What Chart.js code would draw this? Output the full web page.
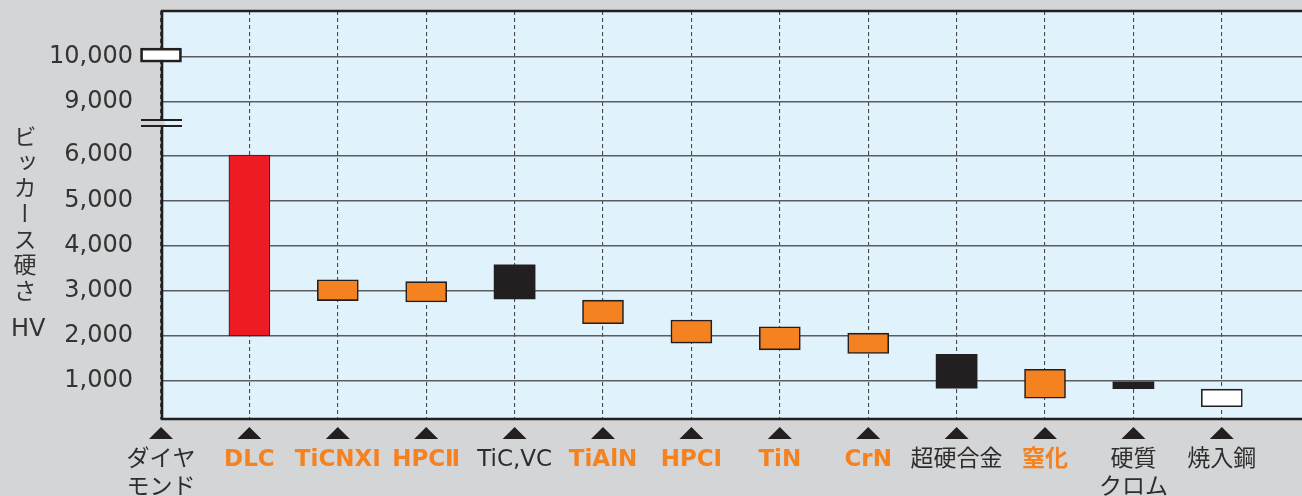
<!DOCTYPE html>
<html lang="ja">
<head>
<meta charset="UTF-8">
<title>ビッカース硬さ HV</title>
<script src="https://cdn.jsdelivr.net/npm/chart.js"></script>
<style>
    html, body { margin: 0; padding: 0; background: #d4d5d7; overflow: hidden; }
    .wrap { position: relative; width: 1302px; height: 496px; }
    #hardnessChart { position: absolute; left: 0; top: 0; }
    .y-title {
        position: absolute; left: 13px; top: 125px;
        writing-mode: vertical-rl; text-orientation: upright;
        font: 23px "Noto Sans CJK JP", sans-serif; line-height: 23px;
        letter-spacing: 2.6px; color: #333;
    }
    .y-unit {
        position: absolute; left: 11px; top: 315px;
        font: 24px "DejaVu Sans", sans-serif; line-height: 26px; color: #333;
    }
</style>
</head>
<body>
<div class="wrap">
    <canvas id="hardnessChart" width="1302" height="496"></canvas>
    <div class="y-title">ビッカース硬さ</div>
    <div class="y-unit">HV</div>
</div>
<script>
    // データ
    const categories = [['ダイヤ', 'モンド'], 'DLC', 'TiCNXⅠ', 'HPCⅡ', 'TiC,VC', 'TiAlN', 'HPCⅠ',
        'TiN', 'CrN', '超硬合金', '窒化', ['硬質', 'クロム'], '焼入鋼'];
    const hvLow  = [9870, 2000, 2780, 2750, 2820, 2270, 1840, 1690, 1610, 840, 620, 830, 430];
    const hvHigh = [10180, 6000, 3240, 3200, 3570, 2790, 2350, 2200, 2060, 1590, 1260, 980, 820];
    const yTickValues = [1000, 2000, 3000, 4000, 5000, 6000, 9000, 10000];
    const yTickLabels = ['1,000', '2,000', '3,000', '4,000', '5,000', '6,000', '9,000', '10,000'];

    // 色
    const ORANGE = '#f58220';
    const BLACK = '#231f20';
    const barFill = ['#ffffff', '#ed1c24', ORANGE, ORANGE, BLACK, ORANGE, ORANGE, ORANGE, ORANGE, BLACK, ORANGE, BLACK, '#ffffff'];
    const barEdgeWidth = [2.7, 1, 1.6, 1.6, 0, 1.6, 1.6, 1.6, 1.6, 0, 1.6, 0, 1.6];
    const labelOrange = [false, true, true, true, false, true, true, true, true, false, true, false, false];
    const FONT = '"DejaVu Sans", "Noto Sans CJK JP", sans-serif';

    // 軸の省略（6,000〜9,000）
    const BREAK_LO = 6000, BREAK_HI = 9000, BREAK_SPAN = 1190;
    function toAxis(v) {
        if (v <= BREAK_LO) return v;
        if (v >= BREAK_HI) return v - (BREAK_HI - BREAK_LO) + BREAK_SPAN;
        return BREAK_LO + (v - BREAK_LO) * BREAK_SPAN / (BREAK_HI - BREAK_LO);
    }

    const frame = {
        id: 'frame',
        beforeDraw(chart) {
            const { ctx, chartArea: a } = chart;
            ctx.save();
            ctx.fillStyle = '#e0f2fc';
            ctx.fillRect(a.left, a.top, a.right - a.left, a.bottom - a.top);
            ctx.restore();
        },
        beforeDatasetsDraw(chart) {
            const { ctx, chartArea: a } = chart;
            ctx.save();
            ctx.strokeStyle = BLACK;
            ctx.lineWidth = 2.6;
            ctx.beginPath();
            ctx.moveTo(a.right + 5, a.top);
            ctx.lineTo(a.left + 1, a.top);
            ctx.lineTo(a.left + 1, a.bottom);
            ctx.lineTo(a.right + 5, a.bottom);
            ctx.stroke();
            ctx.restore();
        },
        afterDatasetsDraw(chart) {
            const { ctx, chartArea: a, scales: { x, y } } = chart;
            ctx.save();
            // 省略記号
            const yb = y.getPixelForValue(toAxis(7800));
            const x0 = x.getPixelForValue(0);
            ctx.fillStyle = '#d4d5d7';
            ctx.fillRect(a.left - 1, yb - 2, 4.5, 4);
            ctx.strokeStyle = BLACK;
            ctx.lineWidth = 2;
            ctx.beginPath();
            ctx.moveTo(x0 - 20, yb - 3); ctx.lineTo(x0 + 21, yb - 3);
            ctx.moveTo(x0 - 20, yb + 3); ctx.lineTo(x0 + 21, yb + 3);
            ctx.stroke();
            // 三角マーク
            ctx.fillStyle = BLACK;
            categories.forEach((c, i) => {
                const px = x.getPixelForValue(i);
                ctx.beginPath();
                ctx.moveTo(px, a.bottom + 8);
                ctx.lineTo(px + 12, a.bottom + 20);
                ctx.lineTo(px - 12, a.bottom + 20);
                ctx.closePath();
                ctx.fill();
            });
            ctx.restore();
        }
    };

    new Chart(document.getElementById('hardnessChart'), {
        type: 'bar',
        data: {
            datasets: [{
                data: categories.map((c, i) => ({ x: i, y: [toAxis(hvLow[i]), toAxis(hvHigh[i])] })),
                backgroundColor: barFill,
                borderColor: BLACK,
                borderWidth: barEdgeWidth,
                borderSkipped: false,
                barThickness: 41,
                clip: false
            }]
        },
        options: {
            responsive: false,
            animation: false,
            layout: { padding: { top: 11, right: 0, bottom: 0, left: 0 } },
            plugins: { legend: { display: false }, tooltip: { enabled: false } },
            scales: {
                x: {
                    type: 'linear',
                    min: 0,
                    max: 12.907,
                    offset: false,
                    afterBuildTicks: s => { s.ticks = categories.map((c, i) => ({ value: i })); },
                    afterFit: s => { s.height = 77; s.paddingLeft = 0; s.paddingRight = 0; },
                    grid: { offset: false, drawTicks: false, color: '#48494b', lineWidth: 1.1 },
                    border: { display: false, dash: [4, 3] },
                    ticks: {
                        autoSkip: false,
                        maxRotation: 0,
                        padding: 27,
                        callback: (v, i) => categories[i],
                        color: c => labelOrange[c.index] ? ORANGE : '#2d2d2d',
                        font: c => ({ family: FONT, size: 23, weight: labelOrange[c.index] ? 'bold' : 'normal', lineHeight: 1.22 })
                    }
                },
                y: {
                    min: 159,
                    max: 9193,
                    afterBuildTicks: s => { s.ticks = yTickValues.map(v => ({ value: toAxis(v) })); },
                    afterFit: s => { s.width = 161; s.paddingTop = 0; s.paddingBottom = 0; },
                    grid: { drawTicks: false, color: '#5b5c5f', lineWidth: 1.4 },
                    border: { display: false },
                    ticks: {
                        padding: 28,
                        color: '#333',
                        font: { family: 'DejaVu Sans', size: 24 },
                        callback: (v, i) => yTickLabels[i]
                    }
                }
            }
        },
        plugins: [frame]
    });
</script>
</body>
</html>
